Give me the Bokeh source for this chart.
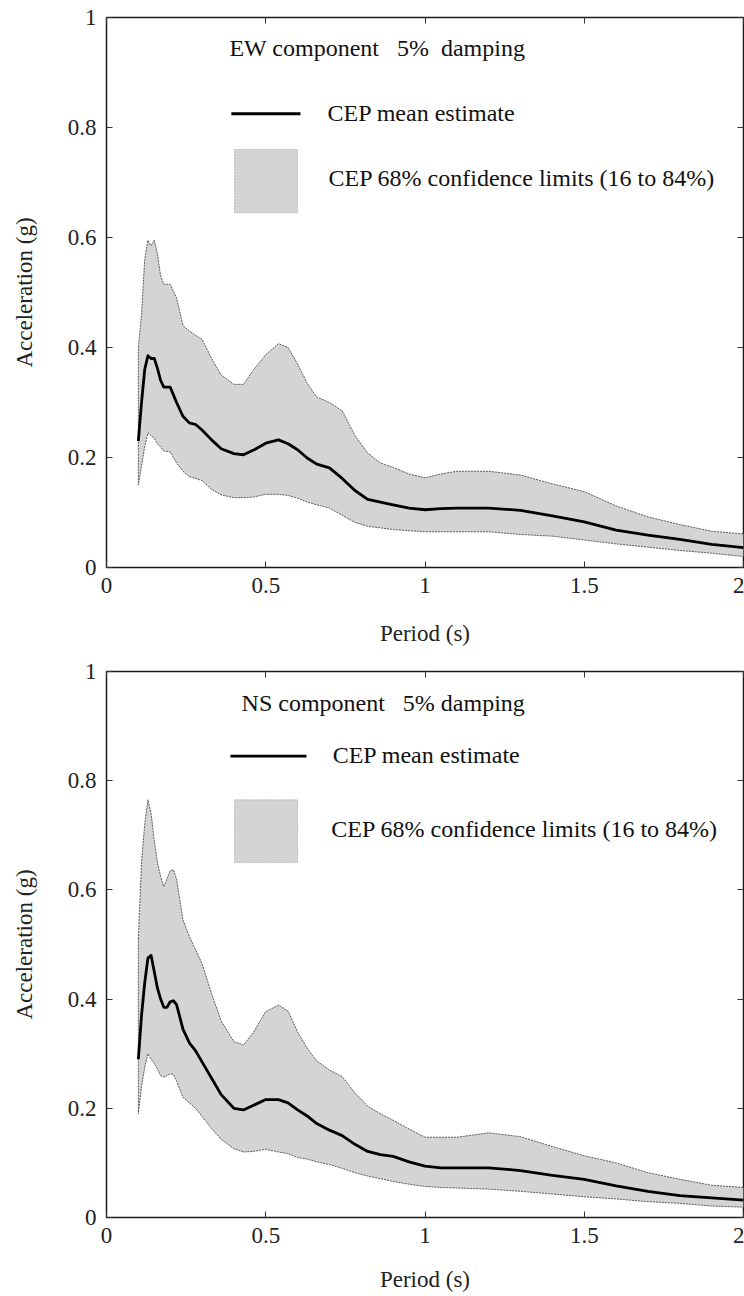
from bokeh.plotting import figure
from bokeh.layouts import column
from bokeh.models import Range1d, LinearAxis, FixedTicker, Label, BoxAnnotation
from bokeh.embed import file_html
from bokeh.resources import INLINE

# ---------------- data ----------------
x_ticks = [0, 0.5, 1, 1.5, 2]
x_tick_labels = ["0", "0.5", "1", "1.5", "2"]
y_ticks = [0, 0.2, 0.4, 0.6, 0.8, 1]
y_tick_labels = ["0", "0.2", "0.4", "0.6", "0.8", "1"]

ew_period = [0.10, 0.11, 0.12, 0.13, 0.14, 0.15, 0.16, 0.17, 0.18, 0.20, 0.22, 0.24,
             0.26, 0.28, 0.30, 0.33, 0.36, 0.40, 0.43, 0.46, 0.50, 0.54, 0.57, 0.60,
             0.63, 0.66, 0.70, 0.74, 0.78, 0.82, 0.86, 0.90, 0.95, 1.00, 1.05, 1.10,
             1.20, 1.30, 1.40, 1.50, 1.60, 1.70, 1.80, 1.90, 2.00]
ew_mean = [0.23, 0.30, 0.36, 0.385, 0.38, 0.38, 0.362, 0.34, 0.328, 0.328, 0.30, 0.275,
           0.263, 0.26, 0.25, 0.232, 0.216, 0.207, 0.205, 0.213, 0.226, 0.232, 0.225, 0.214,
           0.199, 0.188, 0.181, 0.162, 0.14, 0.124, 0.119, 0.114, 0.108, 0.105, 0.107, 0.108,
           0.108, 0.104, 0.094, 0.083, 0.068, 0.059, 0.051, 0.042, 0.036]
ew_lower = [0.15, 0.185, 0.22, 0.245, 0.24, 0.235, 0.225, 0.219, 0.212, 0.21, 0.19, 0.175,
            0.165, 0.162, 0.158, 0.142, 0.132, 0.127, 0.127, 0.128, 0.133, 0.133, 0.131, 0.126,
            0.119, 0.114, 0.108, 0.095, 0.082, 0.075, 0.072, 0.069, 0.067, 0.065, 0.065, 0.065,
            0.065, 0.06, 0.057, 0.05, 0.043, 0.037, 0.031, 0.026, 0.02]
ew_upper = [0.40, 0.46, 0.56, 0.595, 0.585, 0.595, 0.57, 0.53, 0.515, 0.515, 0.49, 0.44,
            0.43, 0.422, 0.415, 0.38, 0.35, 0.333, 0.333, 0.358, 0.387, 0.407, 0.40, 0.37,
            0.335, 0.31, 0.30, 0.285, 0.24, 0.208, 0.19, 0.182, 0.17, 0.163, 0.17, 0.175,
            0.175, 0.168, 0.152, 0.138, 0.112, 0.092, 0.078, 0.066, 0.061]

ns_period = [0.10, 0.11, 0.12, 0.13, 0.14, 0.15, 0.16, 0.17, 0.18, 0.19, 0.20, 0.21, 0.22,
             0.24, 0.26, 0.28, 0.30, 0.33, 0.36, 0.40, 0.43, 0.46, 0.50, 0.54, 0.57, 0.60,
             0.63, 0.66, 0.70, 0.74, 0.78, 0.82, 0.86, 0.90, 0.95, 1.00, 1.05, 1.10,
             1.20, 1.30, 1.40, 1.50, 1.60, 1.70, 1.80, 1.90, 2.00]
ns_mean = [0.29, 0.37, 0.43, 0.475, 0.48, 0.45, 0.42, 0.40, 0.385, 0.385, 0.395, 0.397, 0.39,
           0.345, 0.32, 0.305, 0.285, 0.255, 0.225, 0.20, 0.197, 0.205, 0.216, 0.216, 0.21, 0.197,
           0.186, 0.172, 0.16, 0.15, 0.134, 0.121, 0.115, 0.112, 0.102, 0.094, 0.091, 0.091,
           0.091, 0.086, 0.077, 0.07, 0.058, 0.048, 0.04, 0.036, 0.032]
ns_lower = [0.19, 0.24, 0.275, 0.30, 0.29, 0.282, 0.272, 0.26, 0.257, 0.26, 0.263, 0.262, 0.25,
            0.22, 0.21, 0.20, 0.185, 0.163, 0.143, 0.126, 0.12, 0.121, 0.125, 0.12, 0.117, 0.11,
            0.107, 0.102, 0.097, 0.09, 0.082, 0.076, 0.071, 0.066, 0.061, 0.057, 0.055, 0.054,
            0.052, 0.048, 0.043, 0.038, 0.034, 0.029, 0.026, 0.021, 0.019]
ns_upper = [0.51, 0.65, 0.72, 0.765, 0.74, 0.69, 0.65, 0.625, 0.606, 0.62, 0.635, 0.637, 0.62,
            0.545, 0.515, 0.49, 0.465, 0.41, 0.36, 0.322, 0.316, 0.338, 0.377, 0.389, 0.378, 0.34,
            0.31, 0.287, 0.27, 0.258, 0.228, 0.204, 0.19, 0.178, 0.162, 0.147, 0.147, 0.147,
            0.155, 0.148, 0.13, 0.113, 0.1, 0.082, 0.07, 0.059, 0.055]

titles = ["EW component\u00a0\u00a0 5%\u00a0 damping", "NS component\u00a0\u00a0 5% damping"]
mean_label = "CEP mean estimate"
band_label = "CEP 68% confidence limits (16 to 84%)"

FONT = "Liberation Serif"
BAND_FILL = "#d4d4d4"
BAND_LINE = "#5a5a5a"


def make_plot(period, mean, lower, upper, title, height, border_top, border_bottom,
              xlabel_standoff, leg):
    p = figure(width=744, height=height, output_backend="svg", toolbar_location=None,
               x_range=Range1d(0, 2), y_range=Range1d(0, 1),
               min_border_left=106, min_border_right=1,
               min_border_top=border_top, min_border_bottom=border_bottom)
    p.grid.visible = False
    p.background_fill_color = "white"
    p.border_fill_color = "white"
    p.outline_line_color = "#1a1a1a"
    p.outline_line_width = 1.5

    # band
    xs = list(period) + list(reversed(period))
    ys = list(upper) + list(reversed(lower))
    p.patch(xs, ys, fill_color=BAND_FILL, line_color=BAND_LINE, line_width=1,
            line_dash="2 1")
    # mean
    p.line(period, mean, line_color="black", line_width=2.8, line_join="round")

    # axes
    for ax in (p.xaxis[0], p.yaxis[0]):
        ax.major_tick_in = 6
        ax.major_tick_out = 0
        ax.minor_tick_in = 0
        ax.minor_tick_out = 0
        ax.axis_line_color = None
        ax.major_tick_line_color = "#333333"
        ax.major_label_text_font = FONT
        ax.major_label_text_font_size = "23px"
        ax.major_label_text_color = "#222222"
        ax.axis_label_text_font = FONT
        ax.axis_label_text_font_size = "23px"
        ax.axis_label_text_font_style = "normal"
        ax.axis_label_text_color = "#222222"
        ax.major_label_standoff = 10

    p.xaxis[0].ticker = FixedTicker(ticks=x_ticks)
    p.xaxis[0].major_label_overrides = dict(zip(x_ticks, x_tick_labels))
    p.xaxis[0].axis_label = "Period (s)"
    p.xaxis[0].axis_label_standoff = xlabel_standoff
    p.yaxis[0].ticker = FixedTicker(ticks=y_ticks)
    p.yaxis[0].major_label_overrides = dict(zip(y_ticks, y_tick_labels))
    p.yaxis[0].axis_label = "Acceleration (g)"
    p.yaxis[0].axis_label_standoff = 28
    p.yaxis[0].major_label_orientation = "horizontal"

    # mirror ticks
    for side, ticks in (("right", y_ticks), ("above", x_ticks)):
        ax = LinearAxis(ticker=FixedTicker(ticks=ticks), major_tick_in=6, major_tick_out=0,
                        minor_tick_in=0, minor_tick_out=0, axis_line_color=None,
                        major_tick_line_color="#333333", major_label_text_font_size="0px",
                        major_label_standoff=0, major_label_text_alpha=0)
        p.add_layout(ax, side)

    # custom legend
    p.add_layout(Label(x=leg["title_x"], y=leg["title_y"], text=title, text_font=FONT,
                       text_font_size="24px", text_baseline="middle", text_align="left",
                       text_color="#111111"))
    p.segment(x0=[leg["line_x0"]], y0=[leg["line_y"]], x1=[leg["line_x1"]], y1=[leg["line_y"]],
              line_color="black", line_width=2.8)
    p.add_layout(Label(x=leg["lab1_x"], y=leg["lab1_y"], text=mean_label, text_font=FONT,
                       text_font_size="24px", text_baseline="middle", text_align="left",
                       text_color="#111111"))
    p.add_layout(BoxAnnotation(left=leg["box_l"], right=leg["box_r"], top=leg["box_t"],
                               bottom=leg["box_b"], fill_color=BAND_FILL, fill_alpha=1,
                               line_color=BAND_LINE, line_width=1, line_dash="2 1"))
    p.add_layout(Label(x=leg["lab2_x"], y=leg["lab2_y"], text=band_label, text_font=FONT,
                       text_font_size="24px", text_baseline="middle", text_align="left",
                       text_color="#111111"))
    return p


leg_top = dict(title_x=0.386, title_y=0.944, line_x0=0.392, line_x1=0.609, line_y=0.825,
               lab1_x=0.694, lab1_y=0.827, box_l=0.402, box_r=0.600, box_t=0.760, box_b=0.645,
               lab2_x=0.697, lab2_y=0.709)
leg_bot = dict(title_x=0.424, title_y=0.943, line_x0=0.389, line_x1=0.628, line_y=0.845,
               lab1_x=0.710, lab1_y=0.847, box_l=0.402, box_r=0.600, box_t=0.765, box_b=0.650,
               lab2_x=0.706, lab2_y=0.712)

# top: frame 17..567 ; bottom: frame 671..1219
p1 = make_plot(ew_period, ew_mean, ew_lower, ew_upper, titles[0], 648, 17, 81, 25, leg_top)
p2 = make_plot(ns_period, ns_mean, ns_lower, ns_upper, titles[1], 646, 23, 75, 21, leg_bot)

layout = column(p1, p2)
open("out.html", "w").write(file_html(layout, INLINE))
